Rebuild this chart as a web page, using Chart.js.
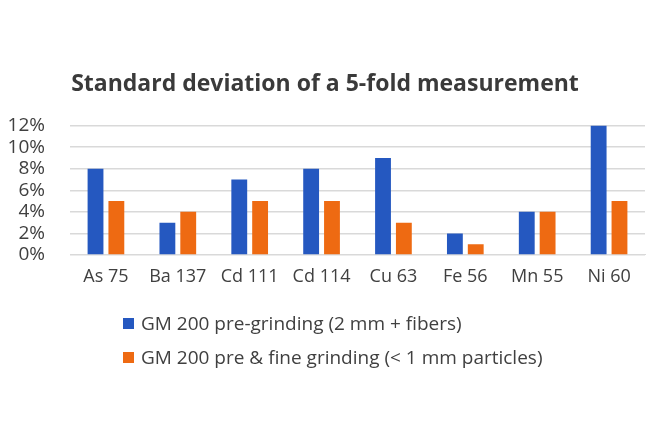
<!DOCTYPE html>
<html>
<head>
  <meta charset="UTF-8" />
  <title>Standard deviation</title>
  <script src="https://cdn.jsdelivr.net/npm/chart.js@4.4.0/dist/chart.umd.min.js"></script>
  <style>
    html,body{margin:0;padding:0;background:#fff;}
    #wrap{position:relative;width:656px;height:437px;}
    #legend{position:absolute;left:123px;top:306px;font-family:"Open Sans",sans-serif;font-size:19px;color:#404040;}
    #legend .item{display:flex;align-items:center;height:34px;}
    #legend .box{width:11px;height:11px;margin-right:7px;}
  </style>
</head>
<body>
  <div id="wrap">
    <canvas id="chart" width="656" height="437"></canvas>
    <div id="legend"></div>
  </div>
  <script>
    const categories=['As 75','Ba 137','Cd 111','Cd 114','Cu 63','Fe 56','Mn 55','Ni 60'];
    const preGrinding=[8,3,7,8,9,2,4,12];
    const fineGrinding=[5,4,5,5,3,1,4,5];
    const seriesNames=['GM 200 pre-grinding (2 mm + fibers)','GM 200 pre & fine grinding (< 1 mm particles)'];
    const seriesColors=['#2558C0','#EE6A12'];

    const font='"Open Sans", sans-serif';
    const textColor='#404040';

    const chart=new Chart(document.getElementById('chart'),{
      type:'bar',
      data:{
        labels:categories,
        datasets:[
          {label:seriesNames[0],data:preGrinding,backgroundColor:seriesColors[0],categoryPercentage:0.58,barPercentage:0.76},
          {label:seriesNames[1],data:fineGrinding,backgroundColor:seriesColors[1],categoryPercentage:0.58,barPercentage:0.76}
        ]
      },
      options:{
        responsive:false,
        animation:false,
        layout:{padding:{top:71,right:11,bottom:142,left:5}},
        plugins:{
          legend:{display:false},
          tooltip:{enabled:false},
          title:{display:true,text:'Standard deviation of a 5-fold measurement',color:'#3a3a3a',
            font:{family:font,size:23,weight:'bold'},padding:{top:0,bottom:27}}
        },
        scales:{
          x:{
            grid:{display:false},
            border:{color:'#d9d9d9'},
            ticks:{color:textColor,font:{family:font,size:18},padding:3,maxRotation:0,autoSkip:false},
            afterFit:s=>{s.height=40;}
          },
          y:{
            min:0,max:12,
            border:{display:false},
            grid:{color:'#d9d9d9',lineWidth:1.5,drawTicks:false},
            ticks:{stepSize:2,color:textColor,font:{family:font,size:19},padding:25,autoSkip:false,
              callback:v=>v+'%'},
            afterFit:s=>{s.width=65;}
          }
        }
      }
    });

    const legend=document.getElementById('legend');
    chart.data.datasets.forEach(ds=>{
      const row=document.createElement('div');
      row.className='item';
      row.innerHTML='<span class="box" style="background:'+ds.backgroundColor+'"></span><span></span>';
      row.lastChild.textContent=ds.label;
      legend.appendChild(row);
    });
  </script>
</body>
</html>
